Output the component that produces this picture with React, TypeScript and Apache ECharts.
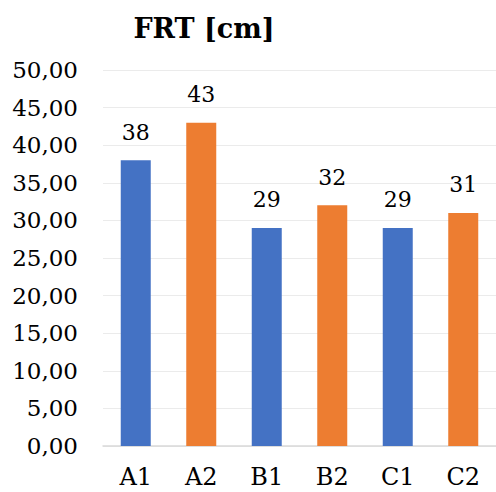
import React, { useEffect, useRef } from "react";
import * as echarts from "echarts";

const categories = ["A1", "A2", "B1", "B2", "C1", "C2"];
const values = [38, 43, 29, 32, 29, 31];
const barColors = ["#4472C4", "#ED7D31", "#4472C4", "#ED7D31", "#4472C4", "#ED7D31"];
const titleText = "FRT [cm]";

const FONT = "DejaVu Serif";

export default function App() {
  const ref = useRef<HTMLDivElement>(null);

  useEffect(() => {
    if (!ref.current) return;
    const chart = echarts.init(ref.current, undefined, { renderer: "svg" });
    chart.setOption({
      animation: false,
      backgroundColor: "#ffffff",
      title: {
        text: titleText,
        left: 199,
        top: 10,
        textAlign: "center",
        textStyle: { fontFamily: FONT, fontWeight: "bold", fontSize: 27, color: "#000" },
      },
      grid: { left: 103, right: -5, top: 70, bottom: 46, containLabel: false },
      xAxis: {
        type: "category",
        data: categories,
        axisLine: { show: true, lineStyle: { color: "#d9d9d9", width: 1.5 } },
        axisTick: { show: false },
        axisLabel: { fontFamily: FONT, fontSize: 24, color: "#000", margin: 19 },
      },
      yAxis: {
        type: "value",
        min: 0,
        max: 50,
        interval: 5,
        axisLine: { show: false },
        axisTick: { show: false },
        splitLine: { lineStyle: { color: "#ebebeb", width: 1 } },
        axisLabel: {
          fontFamily: FONT,
          fontSize: 23,
          color: "#000",
          margin: 25,
          formatter: (v: number) => v.toFixed(2).replace(".", ","),
        },
      },
      series: [
        {
          type: "bar",
          barWidth: 30,
          data: values.map((v, i) => ({ value: v, itemStyle: { color: barColors[i] } })),
          label: {
            show: true,
            position: "top",
            distance: 17,
            fontFamily: FONT,
            fontSize: 22,
            color: "#000",
          },
        },
      ],
    });
    return () => chart.dispose();
  }, []);

  return (
    <div
      ref={ref}
      style={{ position: "absolute", left: 0, top: 0, width: 496, height: 492 }}
    />
  );
}
